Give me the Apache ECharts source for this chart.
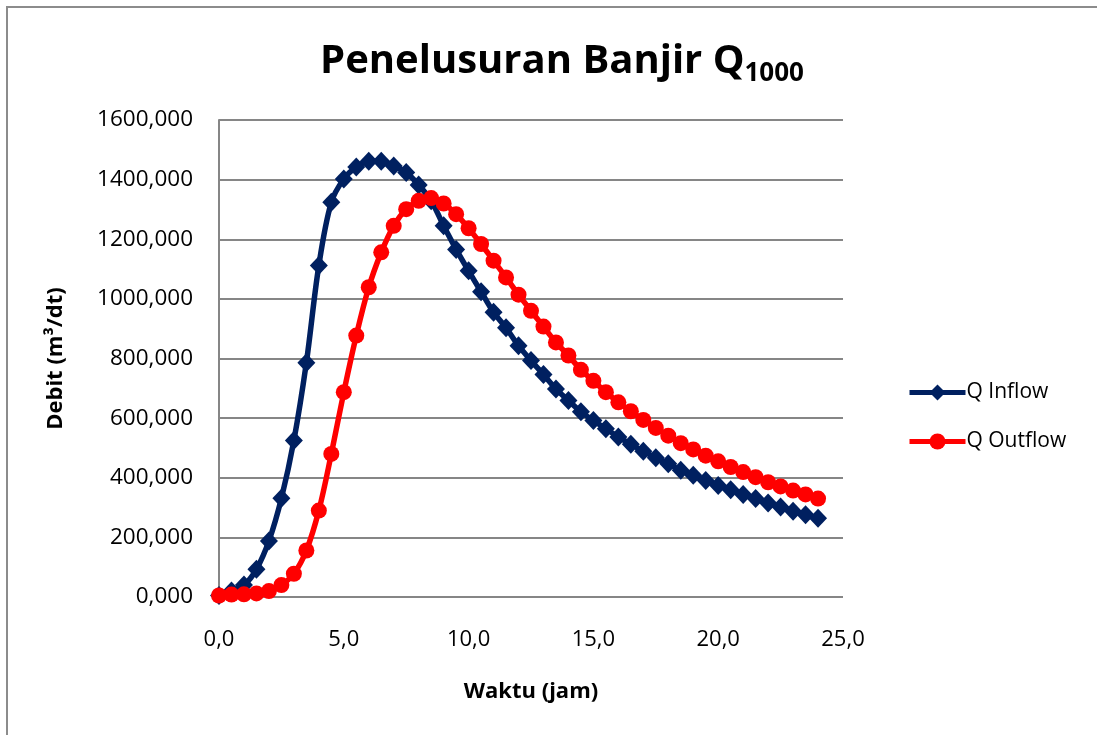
<!DOCTYPE html>
<html>
<head>
<meta charset="utf-8">
<script src="https://cdn.jsdelivr.net/npm/echarts@6/dist/echarts.min.js"></script>
<style>
  html, body { margin: 0; padding: 0; background: #ffffff; }
  #chart { width: 1097px; height: 735px; }
</style>
</head>
<body>
<div id="chart"></div>
<script>
// Waktu (jam)
const waktu = [
  0.0, 0.5, 1.0, 1.5, 2.0, 2.5, 3.0, 3.5, 4.0, 4.5,
  5.0, 5.5, 6.0, 6.5, 7.0, 7.5, 8.0, 8.5, 9.0, 9.5,
  10.0, 10.5, 11.0, 11.5, 12.0, 12.5, 13.0, 13.5, 14.0, 14.5,
  15.0, 15.5, 16.0, 16.5, 17.0, 17.5, 18.0, 18.5, 19.0, 19.5,
  20.0, 20.5, 21.0, 21.5, 22.0, 22.5, 23.0, 23.5, 24.0
];

// Q Inflow (m3/dt)
const qInflow = [
  5, 20, 40, 93, 188, 331, 525, 786, 1112, 1324,
  1402, 1442, 1462, 1462, 1446, 1424, 1382, 1329, 1245, 1166,
  1094, 1024, 955, 903, 843, 793, 746, 698, 659, 621,
  592, 564, 537, 512, 489, 467, 447, 425, 408, 391,
  374, 360, 344, 330, 315, 302, 288, 276, 264
];

// Q Outflow (m3/dt)
const qOutflow = [
  5, 8, 9, 12, 20, 40, 78, 156, 290, 480,
  687, 877, 1039, 1156, 1245, 1301, 1329, 1338, 1320, 1284,
  1237, 1184, 1128, 1072, 1014, 960, 907, 854, 810, 762,
  725, 687, 653, 623, 594, 567, 541, 516, 495, 474,
  455, 436, 419, 402, 385, 371, 357, 344, 330
];

const seriesNames = ['Q Inflow', 'Q Outflow'];

const FONT = '"Open Sans", "DejaVu Sans", sans-serif';
const GRID_GRAY = '#868686';

const toPairs = (ys) => waktu.map((x, i) => [x, ys[i]]);
const comma = (v, d) => v.toFixed(d).replace('.', ',');

const chart = echarts.init(document.getElementById('chart'), null, { renderer: 'canvas' });

chart.setOption({
  animation: false,
  backgroundColor: '#ffffff',
  title: {
    text: 'Penelusuran Banjir Q{sub|1000}',
    left: 557,
    top: 32,
    textAlign: 'center',
    textStyle: {
      fontFamily: FONT,
      fontWeight: 'bold',
      fontSize: 40,
      color: '#000000',
      rich: {
        sub: {
          fontFamily: FONT,
          fontWeight: 'bold',
          fontSize: 26,
          color: '#000000',
          verticalAlign: 'bottom',
          padding: [24, 0, 0, 0]
        }
      }
    }
  },
  graphic: [
    {
      type: 'rect',
      shape: { x: 7, y: 7, width: 1300, height: 900 },
      style: { fill: null, stroke: '#8c8c8c', lineWidth: 2 },
      silent: true
    }
  ],
  legend: {
    orient: 'vertical',
    left: 902,
    top: 377,
    itemWidth: 56,
    itemHeight: 20,
    itemGap: 28,
    data: seriesNames,
    lineStyle: { width: 5 },
    textStyle: { fontFamily: FONT, fontSize: 21, color: '#000000', padding: [0, 0, 0, -4] }
  },
  grid: {
    left: 219,
    right: 254,
    top: 120,
    bottom: 138,
    containLabel: false
  },
  xAxis: {
    type: 'value',
    min: 0,
    max: 25,
    interval: 5,
    name: 'Waktu (jam)',
    nameLocation: 'middle',
    nameGap: 84,
    nameTextStyle: { fontFamily: FONT, fontWeight: 'bold', fontSize: 22, color: '#000000' },
    axisLine: { show: false },
    axisTick: { show: false },
    splitLine: { show: false },
    axisLabel: {
      margin: 32,
      fontFamily: FONT,
      fontSize: 22,
      color: '#000000',
      formatter: (v) => comma(v, 1)
    }
  },
  yAxis: {
    type: 'value',
    min: 0,
    max: 1600,
    interval: 200,
    name: 'Debit (m³/dt)',
    nameLocation: 'middle',
    nameGap: 152,
    nameRotate: 90,
    nameTextStyle: { fontFamily: FONT, fontWeight: 'bold', fontSize: 22, color: '#000000' },
    axisLine: { show: true, lineStyle: { color: GRID_GRAY, width: 2 } },
    axisTick: { show: false },
    splitLine: { show: true, lineStyle: { color: GRID_GRAY, width: 2 } },
    axisLabel: {
      margin: 26,
      fontFamily: FONT,
      fontSize: 22.5,
      color: '#000000',
      formatter: (v) => comma(v, 3)
    }
  },
  series: [
    {
      name: seriesNames[0],
      type: 'line',
      data: toPairs(qInflow),
      smooth: 0.35,
      symbol: 'diamond',
      symbolSize: [18, 19],
      lineStyle: { color: '#002060', width: 5.5 },
      itemStyle: { color: '#002060' },
      z: 2
    },
    {
      name: seriesNames[1],
      type: 'line',
      data: toPairs(qOutflow),
      smooth: 0.35,
      symbol: 'circle',
      symbolSize: 16,
      lineStyle: { color: '#ff0000', width: 5.5 },
      itemStyle: { color: '#ff0000' },
      z: 3
    }
  ]
});
</script>
</body>
</html>
